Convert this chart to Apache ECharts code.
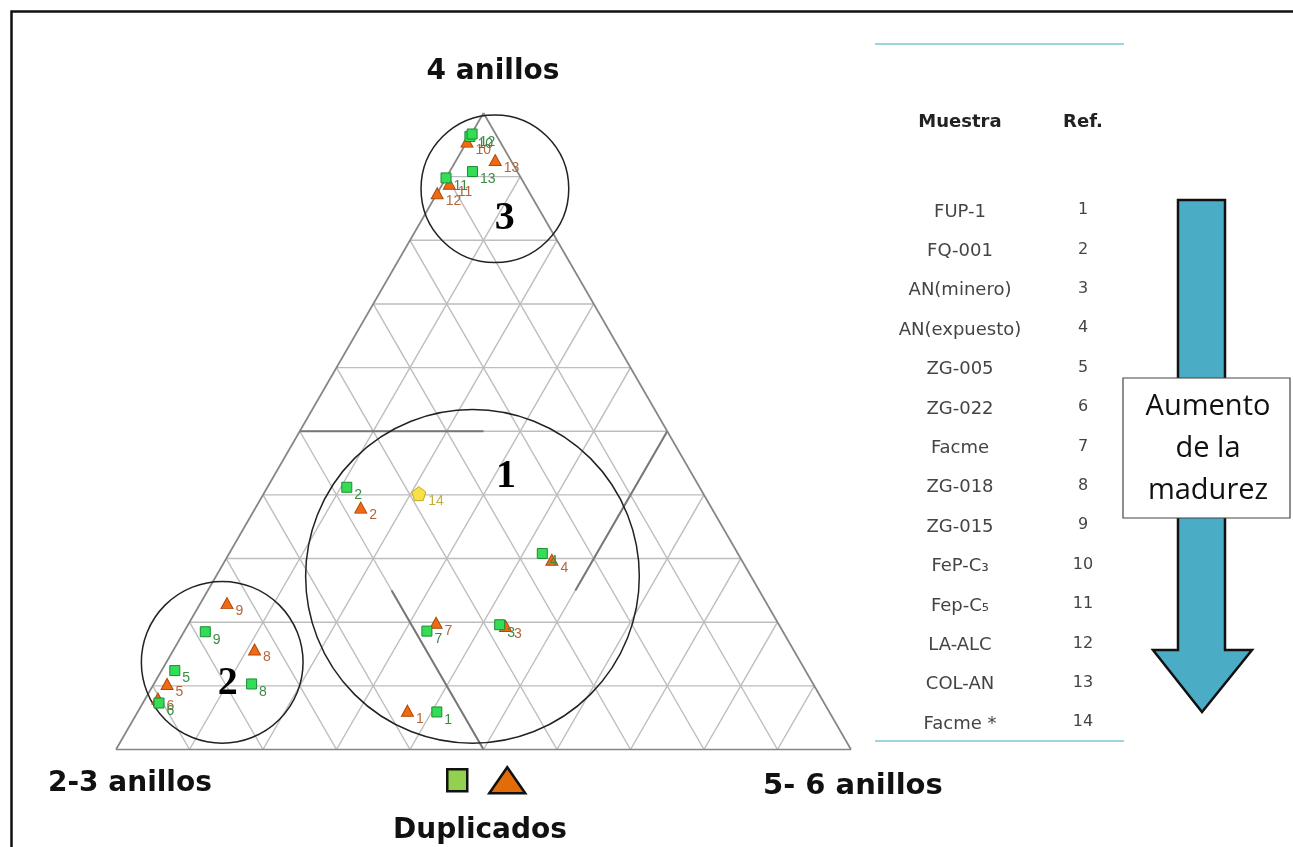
<!DOCTYPE html>
<html>
<head>
<meta charset="utf-8">
<script src="https://cdn.jsdelivr.net/npm/echarts@6/dist/echarts.min.js"></script>
<style>
  html, body { margin: 0; padding: 0; background: #fff; }
  #chart { width: 1293px; height: 847px; }
</style>
</head>
<body>
<div id="chart"></div>
<script>
// Ring-group shares (%) for each sample: [2-3 anillos, 4 anillos, 5-6 anillos]
const refs = ['1', '2', '3', '4', '5', '6', '7', '8', '9', '10', '11', '12', '13'];
const muestraComp = [
  [53.4, 5.9, 40.7],
  [48.0, 41.2, 10.8],
  [38.0, 19.6, 42.4],
  [26.6, 30.8, 42.6],
  [85.8, 12.4, 1.8],
  [90.5, 7.3, 2.2],
  [48.4, 18.6, 33.0],
  [76.4, 10.3, 13.3],
  [78.6, 18.5, 2.9],
  [3.7, 96.3, 0.0],
  [10.2, 89.8, 0.0],
  [3.2, 96.7, 0.1],
  [6.1, 90.8, 3.1]
];
const duplicadoComp = [
  [57.3, 6.1, 36.6],
  [47.7, 38.0, 14.3],
  [37.3, 19.4, 43.3],
  [25.8, 29.8, 44.4],
  [87.9, 10.3, 1.8],
  [90.3, 8.0, 1.7],
  [46.5, 19.9, 33.6],
  [73.3, 15.7, 11.0],
  [73.4, 23.0, 3.6],
  [4.5, 95.5, 0.0],
  [10.2, 88.9, 0.9],
  [12.6, 87.4, 0.0],
  [2.1, 92.6, 5.3]
];
const facmeRef = '14';
const facmeComp = [38.7, 40.2, 21.1];

// Sample table
const sampleNames = ['FUP-1', 'FQ-001', 'AN(minero)', 'AN(expuesto)', 'ZG-005', 'ZG-022', 'Facme',
  'ZG-018', 'ZG-015', 'FeP-C\u2083', 'Fep-C\u2085', 'LA-ALC', 'COL-AN', 'Facme *'];
const sampleRefs = ['1', '2', '3', '4', '5', '6', '7', '8', '9', '10', '11', '12', '13', '14'];

// Corner and legend texts
const cornerTop = '4 anillos';
const cornerLeft = '2-3 anillos';
const cornerRight = '5- 6 anillos';
const legendTitle = 'Duplicados';
const arrowText = 'Aumento\nde la\nmadurez';

// Grid steps (%) along each ternary component
const gridSteps = [10, 20, 30, 40, 50, 60, 70, 80, 90];

// Grouping zones: centre composition, radius (fraction of side), tag and tag composition
const zoneNames = ['1', '2', '3'];
const zoneCenters = [[37.9, 27.2, 34.9], [78.7, 13.7, 7.6], [4.4, 88.1, 7.5]];
const zoneRadii = [0.227, 0.110, 0.1005];
const zoneTagComp = [[25.5, 42.9, 31.6], [79.6, 10.4, 10.0], [5.4, 83.4, 11.2]];

// Emphasised boundary segments, as pairs of compositions
const boundarySegments = [
  [[50, 50, 0], [25, 50, 25]],
  [[50, 0, 50], [50, 25, 25]],
  [[25, 25, 50], [0, 50, 50]]
];

const H = Math.sqrt(3) / 2;
// composition [b, a, c] -> cartesian x (0..1 along the base), y (0..H)
function toXY(comp) {
  const s = comp[0] + comp[1] + comp[2];
  const a = comp[1] / s, c = comp[2] / s;
  return [c + a / 2, a * H];
}

// Grid lines
const gridLines = [];
gridSteps.forEach(k => {
  gridLines.push(toXY([100 - k, k, 0]).concat(toXY([0, k, 100 - k])));
  gridLines.push(toXY([k, 100 - k, 0]).concat(toXY([k, 0, 100 - k])));
  gridLines.push(toXY([100 - k, 0, k]).concat(toXY([0, 100 - k, k])));
});
const outlineLines = [
  toXY([100, 0, 0]).concat(toXY([0, 0, 100])),
  toXY([0, 0, 100]).concat(toXY([0, 100, 0])),
  toXY([0, 100, 0]).concat(toXY([100, 0, 0]))
];
const boundaryLines = boundarySegments.map(s => toXY(s[0]).concat(toXY(s[1])));

function lineRenderer(color, width) {
  return function (params, api) {
    const p1 = api.coord([api.value(0), api.value(1)]);
    const p2 = api.coord([api.value(2), api.value(3)]);
    return {
      type: 'line',
      shape: { x1: p1[0], y1: p1[1], x2: p2[0], y2: p2[1] },
      style: { stroke: color, lineWidth: width }
    };
  };
}

const zoneData = zoneCenters.map((c, i) => toXY(c).concat([zoneRadii[i]], toXY(zoneTagComp[i])));

const muestraData = muestraComp.map((c, i) => toXY(c).concat([refs[i]]));
const duplicadoData = duplicadoComp.map((c, i) => toXY(c).concat([refs[i]]));
const facmeData = [toXY(facmeComp).concat([facmeRef])];

const pentagon = 'path://M0,-10 L9.51,-3.09 L5.88,8.09 L-5.88,8.09 L-9.51,-3.09 Z';

const labelBase = {
  show: true, position: 'right', distance: 2, offset: [0, 8],
  fontSize: 14, fontFamily: 'Liberation Sans, Arial, sans-serif',
  formatter: p => p.value[2]
};

const chart = echarts.init(document.getElementById('chart'), null, { renderer: 'canvas' });

const bold = 'DejaVu Sans, sans-serif';
const graphics = [
  // frame
  { type: 'rect', silent: true, z: 1,
    shape: { x: 11.5, y: 11.5, width: 1320, height: 900 },
    style: { fill: null, stroke: '#111', lineWidth: 2.5 } },
  // corner names
  { type: 'text', silent: true, x: 493, y: 72,
    style: { text: cornerTop, font: 'bold 28px ' + bold, fill: '#111', align: 'center', verticalAlign: 'middle' } },
  { type: 'text', silent: true, x: 48, y: 784,
    style: { text: cornerLeft, font: 'bold 28px ' + bold, fill: '#111', align: 'left', verticalAlign: 'middle' } },
  { type: 'text', silent: true, x: 763, y: 786,
    style: { text: cornerRight, font: 'bold 29px ' + bold, fill: '#111', align: 'left', verticalAlign: 'middle' } },
  { type: 'text', silent: true, x: 480, y: 831,
    style: { text: legendTitle, font: 'bold 28px ' + bold, fill: '#111', align: 'center', verticalAlign: 'middle' } },
  // table rules
  { type: 'line', silent: true, shape: { x1: 875, y1: 44, x2: 1124, y2: 44 },
    style: { stroke: '#9fd3df', lineWidth: 2 } },
  { type: 'line', silent: true, shape: { x1: 875, y1: 741, x2: 1124, y2: 741 },
    style: { stroke: '#9fd3df', lineWidth: 2 } },
  { type: 'text', silent: true, x: 960, y: 122,
    style: { text: 'Muestra', font: 'bold 18px ' + bold, fill: '#222', align: 'center', verticalAlign: 'middle' } },
  { type: 'text', silent: true, x: 1083, y: 122,
    style: { text: 'Ref.', font: 'bold 18px ' + bold, fill: '#222', align: 'center', verticalAlign: 'middle' } },
  // maturity arrow
  { type: 'polygon', silent: true, z: 2,
    shape: { points: [[1178, 200], [1225, 200], [1225, 650], [1252, 650], [1202, 712], [1153, 650], [1178, 650]] },
    style: { fill: '#4bacc6', stroke: '#111', lineWidth: 2.5 } },
  { type: 'rect', silent: true, z: 3,
    shape: { x: 1123, y: 378, width: 167, height: 140 },
    style: { fill: '#fff', stroke: '#444', lineWidth: 1.2 } },
  { type: 'text', silent: true, z: 4, x: 1208, y: 449,
    style: { text: arrowText, font: '29px Open Sans, sans-serif', lineHeight: 42, fill: '#111', align: 'center', verticalAlign: 'middle' } }
];
sampleNames.forEach((n, i) => {
  const y = 212 + i * 39.4;
  graphics.push({ type: 'text', silent: true, x: 960, y: y,
    style: { text: n, font: '18px ' + bold, fill: '#444', align: 'center', verticalAlign: 'middle' } });
  graphics.push({ type: 'text', silent: true, x: 1083, y: y - 2,
    style: { text: sampleRefs[i], font: '16px ' + bold, fill: '#444', align: 'center', verticalAlign: 'middle' } });
});

chart.setOption({
  animation: false,
  backgroundColor: '#fff',
  grid: { left: 116, top: 113, width: 735, height: 636.5, containLabel: false },
  xAxis: { type: 'value', min: 0, max: 1, show: false },
  yAxis: { type: 'value', min: 0, max: H, show: false },
  legend: [
    { left: 446, top: 768, itemWidth: 20, itemHeight: 22, selectedMode: false, formatter: () => '',
      textStyle: { fontSize: 1 }, padding: 0,
      data: [{ name: 'Muestra', icon: 'rect', itemStyle: { color: '#92d050', borderColor: '#111', borderWidth: 2.5 } }] },
    { left: 488, top: 766, itemWidth: 36, itemHeight: 26, selectedMode: false, formatter: () => '',
      textStyle: { fontSize: 1 }, padding: 0,
      data: [{ name: 'Duplicado', icon: 'triangle', itemStyle: { color: '#e36c09', borderColor: '#111', borderWidth: 2.5 } }] }
  ],
  graphic: graphics,
  series: [
    { type: 'custom', name: 'grid', silent: true, z: 1, renderItem: lineRenderer('#bdbdbd', 1.4),
      data: gridLines, encode: { x: [0, 2], y: [1, 3] } },
    { type: 'custom', name: 'boundary', silent: true, z: 2, renderItem: lineRenderer('#777', 2),
      data: boundaryLines, encode: { x: [0, 2], y: [1, 3] } },
    { type: 'custom', name: 'outline', silent: true, z: 2, renderItem: lineRenderer('#858585', 1.7),
      data: outlineLines, encode: { x: [0, 2], y: [1, 3] } },
    { type: 'custom', name: 'zones', silent: true, z: 3,
      renderItem: function (params, api) {
        const c = api.coord([api.value(0), api.value(1)]);
        const r = api.size([api.value(2), 0])[0];
        const t = api.coord([api.value(3), api.value(4)]);
        return {
          type: 'group',
          children: [
            { type: 'circle', shape: { cx: c[0], cy: c[1], r: r },
              style: { fill: null, stroke: '#222', lineWidth: 1.5 } },
            { type: 'text', x: t[0], y: t[1],
              style: { text: zoneNames[params.dataIndex], font: 'bold 40px Liberation Serif, serif',
                fill: '#000', align: 'center', verticalAlign: 'middle' } }
          ]
        };
      },
      data: zoneData, encode: { x: 0, y: 1 } },
    { type: 'scatter', name: 'Duplicado', z: 4, symbol: 'triangle', symbolSize: [12, 11],
      itemStyle: { color: '#f06a14', borderColor: '#b04806', borderWidth: 1, opacity: 1 },
      label: Object.assign({}, labelBase, { color: '#b0683c' }),
      data: duplicadoData },
    { type: 'scatter', name: 'Muestra', z: 5, symbol: 'rect', symbolSize: 10,
      itemStyle: { color: '#33dd55', borderColor: '#1f8a35', borderWidth: 1, opacity: 1 },
      label: Object.assign({}, labelBase, { color: '#3c8a46' }),
      data: muestraData },
    { type: 'scatter', name: 'Facme *', z: 5, symbol: pentagon, symbolSize: 14,
      itemStyle: { color: '#f8e048', borderColor: '#c9a820', borderWidth: 1, opacity: 1 },
      label: Object.assign({}, labelBase, { color: '#c2ac3c' }),
      data: facmeData }
  ]
});
</script>
</body>
</html>
